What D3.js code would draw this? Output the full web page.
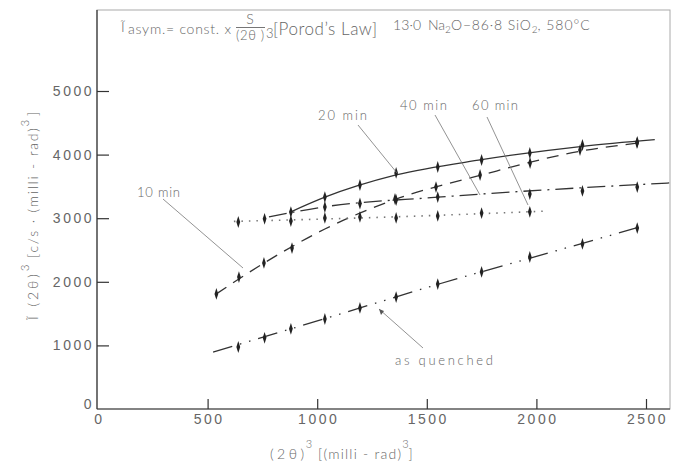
<!DOCTYPE html>
<html>
<head>
<meta charset="utf-8">
<script src="https://cdn.jsdelivr.net/npm/d3@7"></script>
<style>
body{margin:0;background:#fff;}
svg{display:block;font-family:"Lato","Liberation Sans",sans-serif;}
.tx{fill:#666;font-weight:300;}
</style>
</head>
<body>
<svg class="graph" width="679" height="464"></svg>
<script>
// tick values
var xTicks = [0, 500, 1000, 1500, 2000, 2500];
var yTicks = [0, 1000, 2000, 3000, 4000, 5000];

// measured points [ (2θ)^3 , I(2θ)^3 ]
var pts10 = [[540,1810],[643,2075],[757,2296],[885,2531],[1355,3302],[1542,3490],[1743,3679],[1971,3868],[2199,4072],[2459,4182]];
var pts20 = [[880,3097],[1035,3333],[1195,3522],[1360,3711],[1550,3805],[1750,3915],[1970,4025],[2210,4151],[2460,4198]];
var pts40 = [[1035,3176],[1195,3231],[1360,3286],[1550,3333],[1970,3380],[2210,3428],[2460,3490]];
var pts60 = [[640,2940],[760,2990],[880,2955],[1035,3005],[1195,3020],[1360,3005],[1550,3035],[1750,3080],[1970,3100]];
var ptsQ  = [[640,975],[760,1120],[880,1260],[1035,1415],[1195,1590],[1360,1760],[1550,1965],[1750,2155],[1970,2390],[2210,2595],[2460,2845]];

// hand-drawn fitted curves
var fit10 = [[540,1810],[760,2300],[1035,2830],[1360,3300],[1750,3680],[2210,4060],[2460,4180]];
var fit20 = [[880,3100],[1035,3330],[1360,3680],[1750,3920],[2210,4130],[2540,4235]];
var fit40 = [[780,3020],[1035,3180],[1550,3330],[2610,3555]];
var fit60 = [[620,2950],[1300,3015],[2030,3110]];
var fitQ  = [[525,895],[1035,1420],[1550,1960],[2000,2400],[2460,2850]];

var svg = d3.select('svg');
var x = d3.scaleLinear().domain([0,2500]).range([98,646]);
var y = d3.scaleLinear().domain([0,5000]).range([409,91]);

// frame
svg.append('rect').attr('x',97).attr('y',10).attr('width',573).attr('height',399)
  .attr('fill','none').attr('stroke','#aaa').attr('stroke-width',1);

var xa = svg.append('g').attr('transform','translate(0,409)')
  .call(d3.axisBottom(x).tickValues(xTicks).tickSizeInner(-10).tickSizeOuter(0).tickPadding(5).tickFormat(d3.format('d')));
var ya = svg.append('g').attr('transform','translate(97,0)')
  .call(d3.axisLeft(y).tickValues(yTicks).tickSizeInner(-12).tickSizeOuter(0).tickPadding(5).tickFormat(d3.format('d')));
[xa, ya].forEach(function(a){
  a.select('.domain').attr('stroke','#333').attr('stroke-width',1.2);
  a.selectAll('.tick line').attr('stroke','#333').attr('stroke-width',1.2);
  a.selectAll('.tick text').attr('class','tx').attr('font-size',14).style('letter-spacing','2.5px');
});
ya.select('.domain').attr('d','M0,10V409');
xa.select('.domain').attr('d','M97,0H670');
ya.selectAll('.tick text').attr('x',-3);
xa.selectAll('.tick text').attr('dx','1px');
ya.selectAll('.tick').filter(function(d){return d===0;}).select('text').attr('dy','-0.05em');
ya.selectAll('.tick').filter(function(d){return d===0;}).select('line').remove();
xa.selectAll('.tick').filter(function(d){return d===0;}).select('line').remove();

// curves
var line = d3.line().x(function(d){return x(d[0]);}).y(function(d){return y(d[1]);}).curve(d3.curveMonotoneX);
var styles = [
  {fit:fit10, dash:'12,8', w:1.3, c:'#333'},
  {fit:fit20, dash:null, w:1.3, c:'#333'},
  {fit:fit40, dash:'18,6,2,6', w:1.3, c:'#333'},
  {fit:fit60, dash:'1.5,6', w:1.6, c:'#777'},
  {fit:fitQ, dash:'20,8,1.5,8,1.5,8', w:1.3, c:'#333'}
];
styles.forEach(function(s){
  svg.append('path').attr('d',line(s.fit)).attr('fill','none')
    .attr('stroke',s.c).attr('stroke-width',s.w).attr('stroke-dasharray',s.dash);
});

// markers
var sym = d3.symbol().type(d3.symbolDiamond).size(22);
[pts10, pts20, pts40, pts60, ptsQ].forEach(function(p){
  svg.append('g').selectAll('path').data(p).join('path')
    .attr('d',sym)
    .attr('transform',function(d){return 'translate('+x(d[0])+','+y(d[1])+') scale(0.75,1.35)';})
    .attr('fill','#222');
});

// annotations
var notes = [
  {t:'10 min', tx:137, ty:197, l:[163,199,243,268], w:43},
  {t:'20 min', tx:318, ty:120, l:[358,125,397,173], w:49},
  {t:'40 min', tx:400, ty:110, l:[435,115,480,195], w:47},
  {t:'60 min', tx:472, ty:110, l:[487,117,528,205], w:46},
  {t:'as quenched', tx:395, ty:365, l:[423,348,379,309], w:98}
];
notes.forEach(function(n){
  svg.append('text').attr('class','tx').attr('x',n.tx).attr('y',n.ty).attr('font-size',13)
    .attr('textLength',n.w).attr('lengthAdjust','spacing').text(n.t);
  svg.append('line').attr('x1',n.l[0]).attr('y1',n.l[1]).attr('x2',n.l[2]).attr('y2',n.l[3])
    .attr('stroke','#777').attr('stroke-width',0.8);
});
svg.append('path').attr('d','M379,309 l2,6 l3,-4 z').attr('fill','#555');

// title
var t1 = svg.append('text').attr('class','tx').attr('font-size',14);
t1.append('tspan').attr('x',121).attr('y',32).text('Ĩ');
t1.append('tspan').attr('x',128).attr('y',34).attr('textLength',103).attr('lengthAdjust','spacing').text('asym.= const. x');
svg.append('text').attr('class','tx').attr('font-size',14).attr('x',250).attr('y',24).attr('text-anchor','middle').text('S');
svg.append('line').attr('x1',236).attr('x2',265).attr('y1',27.5).attr('y2',27.5).attr('stroke','#666').attr('stroke-width',0.9);
svg.append('text').attr('class','tx').attr('font-size',13).attr('x',250).attr('y',40).attr('text-anchor','middle')
  .attr('textLength',28).attr('lengthAdjust','spacing').text('(2θ )');
svg.append('text').attr('class','tx').attr('font-size',13).attr('x',266).attr('y',38).text('3');
svg.append('text').attr('class','tx').attr('font-size',17).attr('x',273).attr('y',35)
  .attr('textLength',104).attr('lengthAdjust','spacing').text('[Porod’s Law]');
var t2 = svg.append('text').attr('class','tx').attr('font-size',14).attr('y',30);
t2.append('tspan').attr('x',393).attr('textLength',28).attr('lengthAdjust','spacing').text('13·0');
t2.append('tspan').attr('x',428).text('Na');
t2.append('tspan').attr('font-size',10).attr('dy',3).text('2');
t2.append('tspan').attr('dy',-3).attr('textLength',80).attr('lengthAdjust','spacing').text('O−86·8 SiO');
t2.append('tspan').attr('font-size',10).attr('dy',3).text('2');
t2.append('tspan').attr('dy',-3).attr('textLength',52).attr('lengthAdjust','spacing').text(', 580°C');

// axis titles
var xt = svg.append('text').attr('class','tx').attr('font-size',14).attr('y',459);
xt.append('tspan').attr('x',270).attr('textLength',34).attr('lengthAdjust','spacing').text('( 2 θ )');
xt.append('tspan').attr('font-size',11).attr('dx',2).attr('dy',-11).text('3');
xt.append('tspan').attr('x',318).attr('dy',11).attr('textLength',83).attr('lengthAdjust','spacing').text('[(milli - rad)');
xt.append('tspan').attr('font-size',11).attr('dy',-11).text('3');
xt.append('tspan').attr('dy',11).text(']');

var yt = svg.append('text').attr('class','tx').attr('font-size',14)
  .attr('transform','translate(38,320) rotate(-90)');
yt.append('tspan').attr('x',0).attr('textLength',46).attr('lengthAdjust','spacing').text('Ĩ (2θ)');
yt.append('tspan').attr('font-size',11).attr('dy',-9).text('3');
yt.append('tspan').attr('x',62).attr('dy',9).attr('textLength',130).attr('lengthAdjust','spacing').text('[c/s · (milli - rad)');
yt.append('tspan').attr('font-size',11).attr('dy',-9).text('3');
yt.append('tspan').attr('dy',9).text(' ]');
</script>
</body>
</html>
